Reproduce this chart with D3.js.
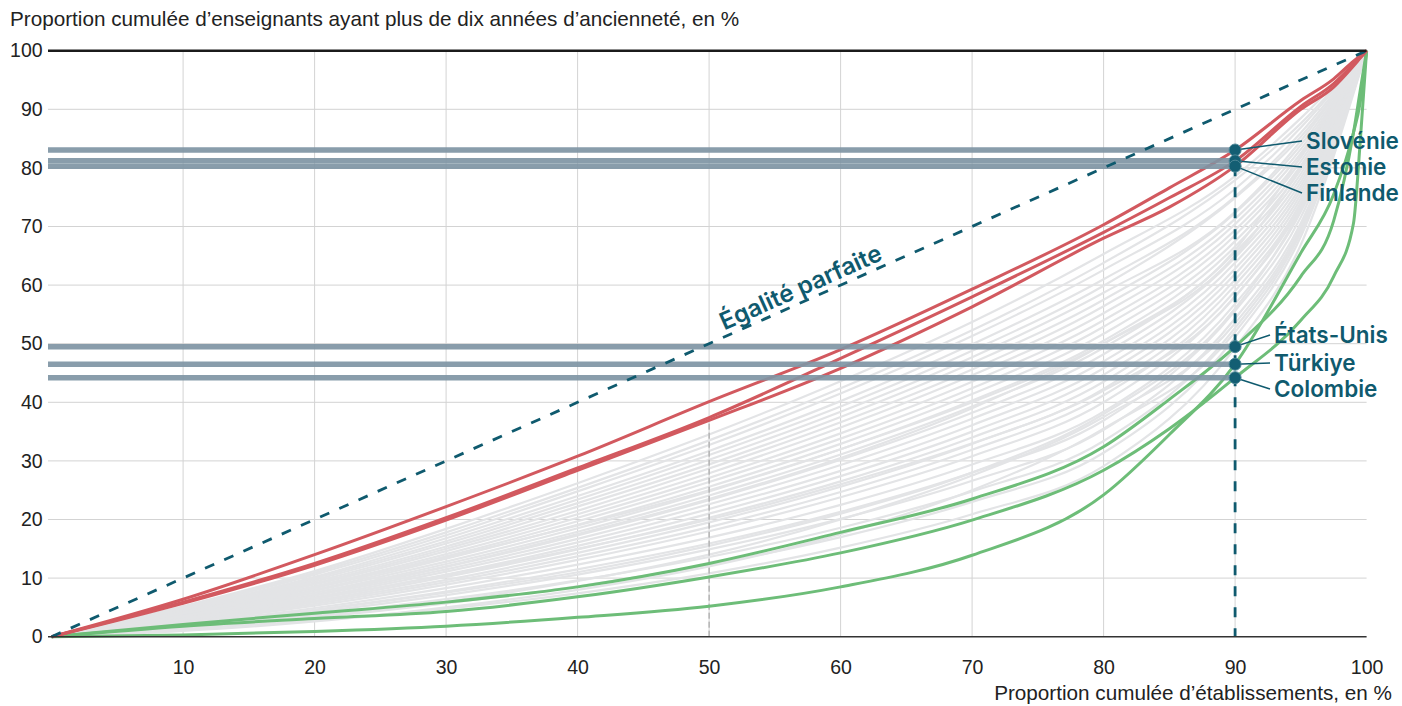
<!DOCTYPE html>
<html>
<head>
<meta charset="utf-8">
<script src="https://cdn.jsdelivr.net/npm/d3@7"></script>
<style>
  body { margin: 0; background: #fff; }
  svg text { font-family: "Liberation Sans", Arial, sans-serif; }
</style>
</head>
<body>
<svg id="chart" width="1402" height="706"></svg>
<script>
// cumulative share of schools (x) for the highlighted countries
const share = [0, 10, 20, 30, 40, 50, 60, 70, 80, 85, 90, 95, 97.5, 99, 99.5, 100];
const slovenie = [0, 6.4, 14.0, 22.2, 30.8, 40.1, 49.0, 59.3, 70.3, 76.6, 83.05, 91.5, 95.2, 98.2, 99.1, 100];
const estonie = [0, 5.9, 12.5, 20.3, 28.8, 37.4, 47.5, 58.0, 69.0, 74.9, 81.2, 90.5, 94.4, 97.7, 98.8, 100];
const finlande = [0, 5.7, 12.2, 19.9, 28.4, 36.9, 45.8, 56.3, 68.0, 73.3, 80.3, 90.0, 93.8, 97.4, 98.7, 100];
const etatsUnis = [0, 2.1, 4.0, 5.9, 8.5, 12.5, 17.8, 23.5, 32.4, 40.5, 49.5, 61.5, 71.0, 86.0, 93.0, 100];
const turkiye = [0, 0.3, 0.9, 1.8, 3.3, 5.2, 8.5, 13.9, 24.2, 34.5, 46.5, 65.5, 75.5, 86.0, 91.0, 100];
const colombie = [0, 1.8, 3.1, 4.3, 6.8, 10.2, 14.3, 19.9, 28.4, 35.5, 44.2, 54.0, 61.5, 70.5, 84.0, 100];

const topNames = ["Slovénie", "Estonie", "Finlande"];
const bottomNames = ["États-Unis", "Türkiye", "Colombie"];

// other countries (grey), x positions
const grayShare = [0, 10, 20, 30, 40, 50, 60, 70, 80, 90, 95, 100];
const grayCurves = [
  [0, 5.2, 11.2, 18.4, 26.2, 34.5, 43.6, 53.7, 65.3, 78.6, 88.5, 100],
  [0, 5.0, 10.9, 17.8, 25.4, 33.5, 42.4, 52.3, 63.8, 77.9, 87.6, 100],
  [0, 4.9, 10.6, 17.3, 24.8, 32.7, 41.5, 51.3, 62.6, 76.4, 86.9, 100],
  [0, 4.7, 10.2, 16.8, 24.0, 31.7, 40.2, 49.9, 61.0, 75.1, 86.0, 100],
  [0, 4.6, 10.0, 16.3, 23.4, 31.0, 39.3, 48.8, 59.9, 74.9, 85.3, 100],
  [0, 4.4, 9.7, 15.9, 22.8, 30.2, 38.4, 47.7, 58.7, 72.5, 84.6, 100],
  [0, 4.3, 9.4, 15.4, 22.2, 29.4, 37.5, 46.7, 57.5, 72.3, 83.9, 100],
  [0, 4.2, 9.1, 15.0, 21.5, 28.7, 36.6, 45.6, 56.4, 71.3, 83.2, 100],
  [0, 4.1, 8.9, 14.6, 20.9, 27.9, 35.7, 44.6, 55.2, 70.4, 82.5, 100],
  [0, 3.9, 8.6, 14.1, 20.3, 27.1, 34.7, 43.5, 54.0, 69.4, 81.8, 100],
  [0, 3.8, 8.3, 13.7, 19.7, 26.4, 33.8, 42.4, 52.9, 68.5, 81.1, 100],
  [0, 3.7, 8.0, 13.3, 19.1, 25.6, 32.9, 41.4, 51.7, 67.5, 80.4, 100],
  [0, 3.5, 7.8, 12.8, 18.5, 24.8, 32.0, 40.3, 50.5, 66.6, 79.7, 100],
  [0, 3.4, 7.5, 12.4, 17.9, 24.1, 31.1, 39.3, 49.3, 65.6, 79.0, 100],
  [0, 3.3, 7.2, 11.9, 17.3, 23.3, 30.2, 38.2, 48.2, 64.7, 78.3, 100],
  [0, 3.2, 7.0, 11.5, 16.7, 22.6, 29.3, 37.2, 47.0, 63.8, 77.6, 100],
  [0, 3.0, 6.7, 11.1, 16.1, 21.8, 28.3, 36.1, 45.8, 62.8, 76.9, 100],
  [0, 2.9, 6.4, 10.6, 15.5, 21.0, 27.4, 35.0, 44.7, 61.9, 76.2, 100],
  [0, 2.8, 6.1, 10.2, 14.9, 20.3, 26.5, 34.0, 43.5, 60.9, 75.5, 100],
  [0, 2.6, 5.9, 9.7, 14.3, 19.5, 25.6, 32.9, 42.3, 60.0, 74.8, 100],
  [0, 2.5, 5.6, 9.3, 13.7, 18.7, 24.7, 31.9, 41.2, 59.0, 74.1, 100],
  [0, 2.4, 5.3, 8.9, 13.1, 18.0, 23.8, 30.8, 40.0, 58.1, 73.4, 100],
  [0, 2.2, 4.9, 8.3, 12.3, 16.9, 22.5, 29.4, 38.4, 56.8, 72.5, 100],
  [0, 2.0, 4.6, 7.7, 11.5, 15.9, 21.3, 28.0, 36.9, 55.6, 71.6, 100],
  [0, 1.9, 4.2, 7.1, 10.6, 14.9, 20.1, 26.6, 35.3, 54.3, 70.6, 100],
  [0, 1.6, 3.8, 6.4, 9.6, 13.6, 18.6, 24.8, 33.4, 52.7, 69.5, 100],
  [0, 1.4, 3.3, 5.7, 8.6, 12.3, 17.0, 23.0, 31.4, 51.1, 68.3, 100],
  [0, 1.2, 2.8, 4.8, 7.4, 10.8, 15.2, 20.9, 29.1, 49.3, 66.9, 100],
  [0, 3.0, 6.5, 10.5, 15.0, 20.0, 26.0, 33.0, 42.0, 58.0, 74.0, 100],
  [0, 2.0, 4.5, 7.5, 11.0, 15.5, 21.0, 28.0, 38.0, 56.0, 73.0, 100],
  [0, 4.0, 8.5, 13.5, 19.0, 25.0, 32.0, 40.0, 50.0, 65.0, 80.0, 100],
  [0, 1.5, 3.5, 6.0, 9.5, 14.0, 20.0, 27.5, 37.5, 53.5, 70.0, 100],
  [0, 3.5, 7.5, 12.0, 17.5, 23.5, 30.5, 39.0, 50.0, 66.0, 82.0, 100],
  [0, 1.0, 2.6, 5.0, 8.0, 12.0, 17.5, 25.0, 35.5, 52.0, 69.0, 100]
];

const xTicks = [10, 20, 30, 40, 50, 60, 70, 80, 90, 100];
const yTicks = [0, 10, 20, 30, 40, 50, 60, 70, 80, 90, 100];

const svg = d3.select("#chart");
const x = d3.scaleLinear().domain([0, 100]).range([51.6, 1366.6]);
const y = d3.scaleLinear().domain([0, 100]).range([636.7, 50.7]);
const left = 48;
const teal = "#0f5a6e";
const labelFont = "Inter, 'Liberation Sans', sans-serif";

// grid
svg.append("g").selectAll("line")
  .data(yTicks.filter(d => d > 0 && d < 100))
  .enter().append("line")
  .attr("x1", left).attr("x2", x(100))
  .attr("y1", d => y(d)).attr("y2", d => y(d))
  .attr("stroke", "#d3d3d3").attr("stroke-width", 1);
svg.append("g").selectAll("line")
  .data(xTicks.filter(d => d < 100))
  .enter().append("line")
  .attr("x1", d => x(d)).attr("x2", d => x(d))
  .attr("y1", y(0)).attr("y2", y(100))
  .attr("stroke", "#d3d3d3").attr("stroke-width", 1);

// axes text
const yAxis = svg.append("g")
  .attr("transform", `translate(${x(0)},0)`)
  .call(d3.axisLeft(y).tickValues(yTicks).tickSize(0).tickPadding(9));
const xAxis = svg.append("g")
  .attr("transform", `translate(0,${y(0)})`)
  .call(d3.axisBottom(x).tickValues(xTicks).tickSize(0).tickPadding(23));
[yAxis, xAxis].forEach(a => {
  a.select(".domain").remove();
  a.selectAll("text")
    .style("font-family", "Liberation Sans, Arial, sans-serif")
    .style("font-size", "19.5px")
    .attr("fill", "#222");
});

// curves
const grayLine = d3.line()
  .x((d, i) => x(grayShare[i]))
  .y(d => y(d))
  .curve(d3.curveMonotoneX);
const line = d3.line()
  .x((d, i) => x(share[i]))
  .y(d => y(d))
  .curve(d3.curveMonotoneX);

svg.append("g").selectAll("path")
  .data(grayCurves)
  .enter().append("path")
  .attr("d", grayLine)
  .attr("fill", "none")
  .attr("stroke", "#e3e4e6")
  .attr("stroke-width", 2.2);

// median marker at 50
svg.append("line")
  .attr("x1", x(50)).attr("x2", x(50))
  .attr("y1", y(0)).attr("y2", y(finlande[5]))
  .attr("stroke", "#9a9a9a").attr("stroke-width", 1)
  .attr("stroke-dasharray", "6,3");

svg.append("g").selectAll("path")
  .data([etatsUnis, turkiye, colombie])
  .enter().append("path")
  .attr("d", line)
  .attr("fill", "none")
  .attr("stroke", "#6dbd78")
  .attr("stroke-width", 3);

svg.append("g").selectAll("path")
  .data([slovenie, estonie, finlande])
  .enter().append("path")
  .attr("d", line)
  .attr("fill", "none")
  .attr("stroke", "#d2595f")
  .attr("stroke-width", 3);

// horizontal bands at the 90 % mark
const highlighted = [slovenie, estonie, finlande, etatsUnis, turkiye, colombie];
const names = topNames.concat(bottomNames);
const i90 = share.indexOf(90);
const at90 = highlighted.map(c => c[i90]);

svg.append("g").selectAll("line")
  .data(at90)
  .enter().append("line")
  .attr("x1", left).attr("x2", x(90))
  .attr("y1", d => y(d)).attr("y2", d => y(d))
  .attr("stroke", "#7f95a4").attr("stroke-width", 5.5)
  .attr("stroke-opacity", 0.92);

// perfect equality
svg.append("line")
  .attr("x1", x(0)).attr("y1", y(0))
  .attr("x2", x(100)).attr("y2", y(100))
  .attr("stroke", teal).attr("stroke-width", 2.8)
  .attr("stroke-dasharray", "10,11");

const angle = Math.atan2(y(100) - y(0), x(100) - x(0)) * 180 / Math.PI;
svg.append("text")
  .attr("transform", `translate(${x(57.4)},${y(57.4)}) rotate(${angle})`)
  .attr("dy", -6)
  .attr("text-anchor", "middle")
  .attr("fill", teal)
  .style("font-family", labelFont)
  .style("font-weight", 600)
  .style("font-size", "24px")
  .text("Égalité parfaite");

// vertical dashed at 90
svg.append("line")
  .attr("x1", x(90)).attr("x2", x(90))
  .attr("y1", y(finlande[i90])).attr("y2", y(0))
  .attr("stroke", teal).attr("stroke-width", 2.8)
  .attr("stroke-dasharray", "10,11");

// labels
const labelX = [1306, 1306, 1306, 1274, 1274, 1274];
const labelY = [141, 167, 193, 335, 363, 389];

svg.append("g").selectAll("line")
  .data(at90)
  .enter().append("line")
  .attr("x1", x(90)).attr("y1", d => y(d))
  .attr("x2", (d, i) => labelX[i] - 4).attr("y2", (d, i) => labelY[i])
  .attr("stroke", teal).attr("stroke-width", 1.5);

svg.append("g").selectAll("circle")
  .data(at90)
  .enter().append("circle")
  .attr("cx", x(90)).attr("cy", d => y(d))
  .attr("r", 6)
  .attr("fill", "#135e73")
  .attr("stroke", "#4d8797").attr("stroke-width", 1);

svg.append("g").selectAll("text")
  .data(names)
  .enter().append("text")
  .attr("x", (d, i) => labelX[i])
  .attr("y", (d, i) => labelY[i])
  .attr("dy", "0.36em")
  .attr("fill", teal)
  .style("font-family", labelFont)
  .style("font-weight", 600)
  .style("font-size", "22.5px")
  .text(d => d);

// frame lines
svg.append("line")
  .attr("x1", left).attr("x2", x(100))
  .attr("y1", y(100)).attr("y2", y(100))
  .attr("stroke", "#1b1b1b").attr("stroke-width", 2.5);
svg.append("line")
  .attr("x1", left).attr("x2", x(100))
  .attr("y1", y(0)).attr("y2", y(0))
  .attr("stroke", "#333").attr("stroke-width", 1.5);

// titles
svg.append("text")
  .attr("x", 10).attr("y", 26)
  .attr("fill", "#222")
  .style("font-size", "20.7px")
  .text("Proportion cumulée d’enseignants ayant plus de dix années d’ancienneté, en %");
svg.append("text")
  .attr("x", 1392).attr("y", 700)
  .attr("text-anchor", "end")
  .attr("fill", "#222")
  .style("font-size", "20.7px")
  .text("Proportion cumulée d’établissements, en %");
</script>
</body>
</html>
